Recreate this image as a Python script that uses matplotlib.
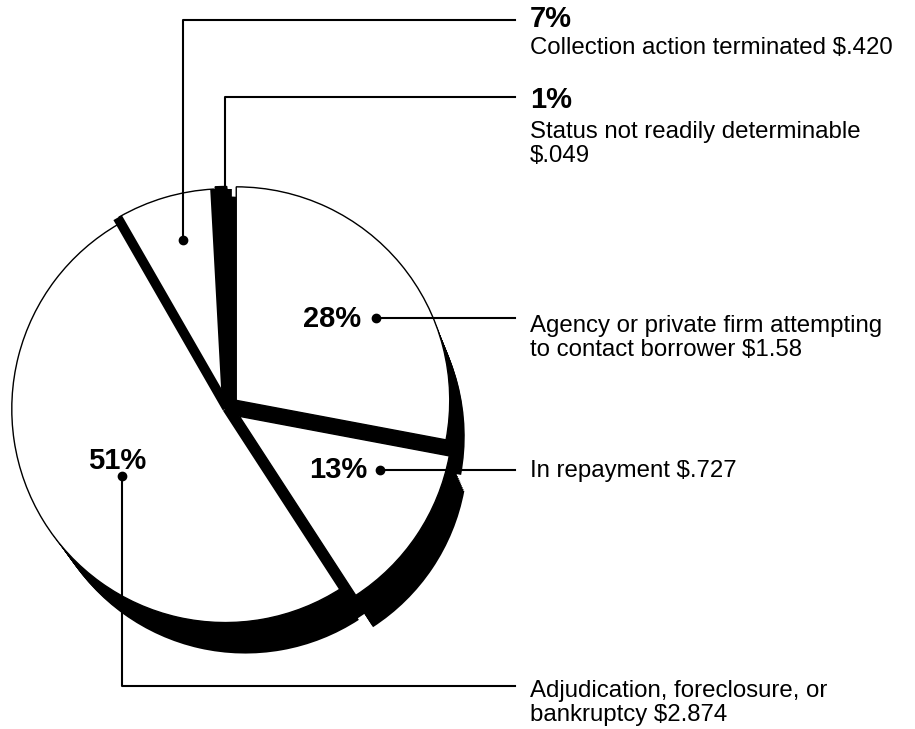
import numpy as np
import matplotlib
matplotlib.use("Agg")
from matplotlib import pyplot as plt
from matplotlib.patches import Wedge, Circle

plt.rcParams['font.family'] = ['Liberation Sans', 'DejaVu Sans']

# dollar amounts, clockwise from 12 o'clock
amounts = [1.58, 0.727, 2.874, 0.420, 0.049]
pct_labels = ['28%', '13%', '51%', '7%', '1%']
descriptions = ['Agency or private firm attempting\nto contact borrower $1.58',
                'In repayment $.727',
                'Adjudication, foreclosure, or\nbankruptcy $2.874',
                'Collection action terminated $.420',
                'Status not readily determinable\n$.049']

# drawing is done in pixel units (y down)
cx, cy, R = 227, 408, 213.5
explode = [12, 15, 2, 6, 8]
face = ['white', 'white', 'white', 'white', 'black']
depth = (20, 36)

fig = plt.figure(figsize=(9.15, 7.29), dpi=100)
ax = fig.add_axes([0, 0, 1, 1])
ax.set_xlim(0, 915)
ax.set_ylim(729, 0)
ax.axis('off')

frac = np.array(amounts) / np.sum(amounts)
edges = -90 + 360 * np.concatenate([[0], np.cumsum(frac)])

# black side of the pie
for t in np.linspace(0, 1, 20):
    ax.add_patch(Circle((cx + t*depth[0], cy + t*depth[1]), R - 2 - 5*t,
                        facecolor='black', edgecolor='none'))
for i in range(len(amounts)):
    mid = np.radians((edges[i] + edges[i+1]) / 2)
    ex, ey = explode[i] * np.cos(mid), explode[i] * np.sin(mid)
    for t in np.linspace(0, 1, 20):
        ax.add_patch(Wedge((cx + ex + t*depth[0], cy + ey + t*depth[1]), R - 5*t,
                           edges[i], edges[i+1], facecolor='black', edgecolor='none'))

for i in range(len(amounts)):
    mid = np.radians((edges[i] + edges[i+1]) / 2)
    ex, ey = explode[i] * np.cos(mid), explode[i] * np.sin(mid)
    ax.add_patch(Wedge((cx + ex, cy + ey), R, edges[i], edges[i+1],
                       facecolor=face[i], edgecolor='black', linewidth=1))

# separators between slices
for a in edges[:-1]:
    r = np.radians(a)
    ax.plot([cx, cx + (R + 6) * np.cos(r)], [cy, cy + (R + 6) * np.sin(r)],
            color='black', lw=7, solid_capstyle='butt')

# percent labels inside the pie
ax.text(361, 319, pct_labels[0], ha='right', va='center', fontsize=21, fontweight='bold')
ax.text(367, 470, pct_labels[1], ha='right', va='center', fontsize=21, fontweight='bold')
ax.text(117, 461, pct_labels[2], ha='center', va='center', fontsize=21, fontweight='bold')

# leader lines
lx = 515
ax.plot([376, lx], [318, 318], color='black', lw=1.5)
ax.plot([380, lx], [470, 470], color='black', lw=1.5)
ax.plot([122, 122, lx], [476, 686, 686], color='black', lw=1.5)
ax.plot([183, 183, lx], [240, 20, 20], color='black', lw=1.5)
ax.plot([225, 225, lx], [186, 97, 97], color='black', lw=1.5)
for px, py in [(376, 318), (380, 470), (122, 476), (183, 240)]:
    ax.plot(px, py, 'o', color='black', ms=6)

# right side labels
tx = 530
fs = 17.25
ax.text(tx, 338, descriptions[0], ha='left', va='center', fontsize=fs, linespacing=1.15)
ax.text(tx, 471, descriptions[1], ha='left', va='center', fontsize=fs)
ax.text(tx, 703, descriptions[2], ha='left', va='center', fontsize=fs, linespacing=1.15)
ax.text(tx, 19, pct_labels[3], ha='left', va='center', fontsize=21, fontweight='bold')
ax.text(tx, 48, descriptions[3], ha='left', va='center', fontsize=fs)
ax.text(tx, 100, pct_labels[4], ha='left', va='center', fontsize=21, fontweight='bold')
ax.text(tx, 144, descriptions[4], ha='left', va='center', fontsize=fs, linespacing=1.15)

fig.savefig('out.png', dpi=100, facecolor='white')
